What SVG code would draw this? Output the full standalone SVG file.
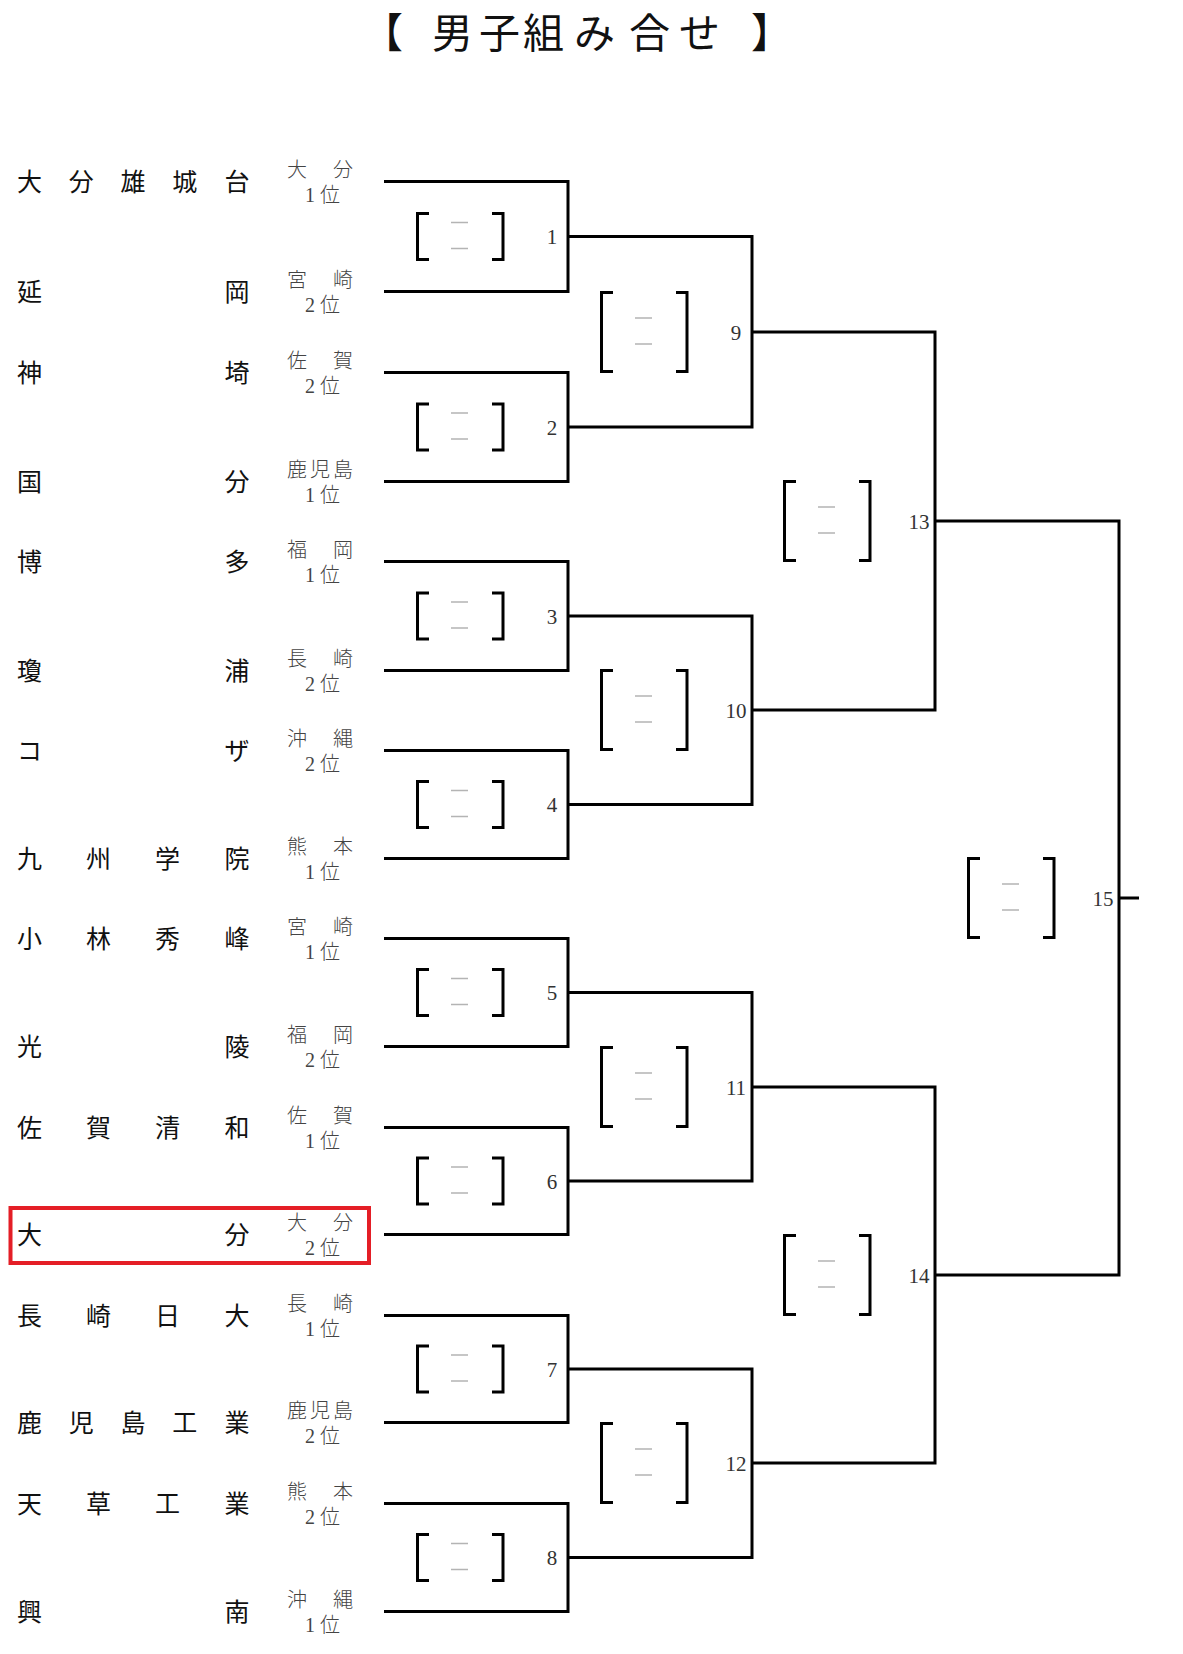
<svg xmlns="http://www.w3.org/2000/svg" width="1183" height="1654" viewBox="0 0 1183 1654">
<style>
.title{font-family:"Noto Sans CJK JP",sans-serif;font-size:41px;fill:#111}
.name{font-family:"Noto Sans CJK JP",sans-serif;font-size:25px;fill:#111}
.pref{font-family:"Liberation Serif","Noto Sans CJK JP",serif;font-size:20px;fill:#444;font-weight:300}
.num{font-family:"Liberation Serif",serif;font-size:21px;fill:#333;text-anchor:middle}
.ln{fill:none;stroke:#000;stroke-width:3;stroke-linejoin:miter}
.br{fill:none;stroke:#000;stroke-width:3}
.dash{stroke:#b4b4b4;stroke-width:1.6}
.mark{fill:none;stroke:#e41e26;stroke-width:4}
</style>
<defs>
<g id="b1">
<path class="br" d="M-139,-23 H-150.5 V23 H-139 M-76,-23 H-65 V23 H-76"/>
<path class="dash" d="M-117,-14 H-100 M-117,12 H-100"/>
</g>
<g id="b2">
<path class="br" d="M-139,-39.5 H-150.5 V39.5 H-139 M-76,-39.5 H-65 V39.5 H-76"/>
<path class="dash" d="M-117,-14 H-100 M-117,12 H-100"/>
</g>
</defs>
<rect width="1183" height="1654" fill="#fff"/>
<text class="title" x="362 400 432 479 523 574 629 679 720 751" y="48">【 男子組み合せ 】</text>

<g id="connectors">
<path class="ln" d="M384,181.5 H568 V291.5 H384"/>
<path class="ln" d="M384,372.5 H568 V481.5 H384"/>
<path class="ln" d="M384,561.5 H568 V670.5 H384"/>
<path class="ln" d="M384,750.5 H568 V858.5 H384"/>
<path class="ln" d="M384,938.5 H568 V1046.5 H384"/>
<path class="ln" d="M384,1127.5 H568 V1234.5 H384"/>
<path class="ln" d="M384,1315.5 H568 V1422.5 H384"/>
<path class="ln" d="M384,1503.5 H568 V1611.5 H384"/>
<path class="ln" d="M568,236.5 H752 V427 H568"/>
<path class="ln" d="M568,616 H752 V804.5 H568"/>
<path class="ln" d="M568,992.5 H752 V1181 H568"/>
<path class="ln" d="M568,1369 H752 V1557.5 H568"/>
<path class="ln" d="M752,332 H935 V710 H752"/>
<path class="ln" d="M752,1087 H935 V1463 H752"/>
<path class="ln" d="M935,521 H1119 V1275 H935"/>
<path class="ln" d="M1119,898 H1139"/>
</g>

<g id="team-1"><text class="name" x="17 68.75 120.5 172.25 224.5" y="191">大分雄城台</text><text class="pref" x="287 310 333" y="176.5">大　分</text><text class="pref" x="305 320" y="202">1位</text></g>
<g id="team-2"><text class="name" x="17 224.5" y="301">延岡</text><text class="pref" x="287 310 333" y="286.5">宮　崎</text><text class="pref" x="305 320" y="312">2位</text></g>
<g id="team-3"><text class="name" x="17 224.5" y="382">神埼</text><text class="pref" x="287 310 333" y="367.5">佐　賀</text><text class="pref" x="305 320" y="393">2位</text></g>
<g id="team-4"><text class="name" x="17 224.5" y="491">国分</text><text class="pref" x="287 310 333" y="476.5">鹿児島</text><text class="pref" x="305 320" y="502">1位</text></g>
<g id="team-5"><text class="name" x="17 224.5" y="571">博多</text><text class="pref" x="287 310 333" y="556.5">福　岡</text><text class="pref" x="305 320" y="582">1位</text></g>
<g id="team-6"><text class="name" x="17 224.5" y="680">瓊浦</text><text class="pref" x="287 310 333" y="665.5">長　崎</text><text class="pref" x="305 320" y="691">2位</text></g>
<g id="team-7"><text class="name" x="17 224.5" y="760">コザ</text><text class="pref" x="287 310 333" y="745.5">沖　縄</text><text class="pref" x="305 320" y="771">2位</text></g>
<g id="team-8"><text class="name" x="17 86 155 224.5" y="868">九州学院</text><text class="pref" x="287 310 333" y="853.5">熊　本</text><text class="pref" x="305 320" y="879">1位</text></g>
<g id="team-9"><text class="name" x="17 86 155 224.5" y="948">小林秀峰</text><text class="pref" x="287 310 333" y="933.5">宮　崎</text><text class="pref" x="305 320" y="959">1位</text></g>
<g id="team-10"><text class="name" x="17 224.5" y="1056">光陵</text><text class="pref" x="287 310 333" y="1041.5">福　岡</text><text class="pref" x="305 320" y="1067">2位</text></g>
<g id="team-11"><text class="name" x="17 86 155 224.5" y="1137">佐賀清和</text><text class="pref" x="287 310 333" y="1122.5">佐　賀</text><text class="pref" x="305 320" y="1148">1位</text></g>
<g id="team-12"><rect class="mark" x="10.5" y="1208" width="358.5" height="55"/><text class="name" x="17 224.5" y="1244">大分</text><text class="pref" x="287 310 333" y="1229.5">大　分</text><text class="pref" x="305 320" y="1255">2位</text></g>
<g id="team-13"><text class="name" x="17 86 155 224.5" y="1325">長崎日大</text><text class="pref" x="287 310 333" y="1310.5">長　崎</text><text class="pref" x="305 320" y="1336">1位</text></g>
<g id="team-14"><text class="name" x="17 68.75 120.5 172.25 224.5" y="1432">鹿児島工業</text><text class="pref" x="287 310 333" y="1417.5">鹿児島</text><text class="pref" x="305 320" y="1443">2位</text></g>
<g id="team-15"><text class="name" x="17 86 155 224.5" y="1513">天草工業</text><text class="pref" x="287 310 333" y="1498.5">熊　本</text><text class="pref" x="305 320" y="1524">2位</text></g>
<g id="team-16"><text class="name" x="17 224.5" y="1621">興南</text><text class="pref" x="287 310 333" y="1606.5">沖　縄</text><text class="pref" x="305 320" y="1632">1位</text></g>

<g id="match-1"><use href="#b1" x="568" y="236.5"/><text class="num" x="552" y="244">1</text></g>
<g id="match-2"><use href="#b1" x="568" y="427"/><text class="num" x="552" y="434.5">2</text></g>
<g id="match-3"><use href="#b1" x="568" y="616"/><text class="num" x="552" y="623.5">3</text></g>
<g id="match-4"><use href="#b1" x="568" y="804.5"/><text class="num" x="552" y="812">4</text></g>
<g id="match-5"><use href="#b1" x="568" y="992.5"/><text class="num" x="552" y="1000">5</text></g>
<g id="match-6"><use href="#b1" x="568" y="1181"/><text class="num" x="552" y="1188.5">6</text></g>
<g id="match-7"><use href="#b1" x="568" y="1369"/><text class="num" x="552" y="1376.5">7</text></g>
<g id="match-8"><use href="#b1" x="568" y="1557.5"/><text class="num" x="552" y="1565">8</text></g>
<g id="match-9"><use href="#b2" x="752" y="332"/><text class="num" x="736" y="339.5">9</text></g>
<g id="match-10"><use href="#b2" x="752" y="710"/><text class="num" x="736" y="717.5">10</text></g>
<g id="match-11"><use href="#b2" x="752" y="1087"/><text class="num" x="736" y="1094.5">11</text></g>
<g id="match-12"><use href="#b2" x="752" y="1463"/><text class="num" x="736" y="1470.5">12</text></g>
<g id="match-13"><use href="#b2" x="935" y="521"/><text class="num" x="919" y="528.5">13</text></g>
<g id="match-14"><use href="#b2" x="935" y="1275"/><text class="num" x="919" y="1282.5">14</text></g>
<g id="match-15"><use href="#b2" x="1119" y="898"/><text class="num" x="1103" y="905.5">15</text></g>
</svg>
